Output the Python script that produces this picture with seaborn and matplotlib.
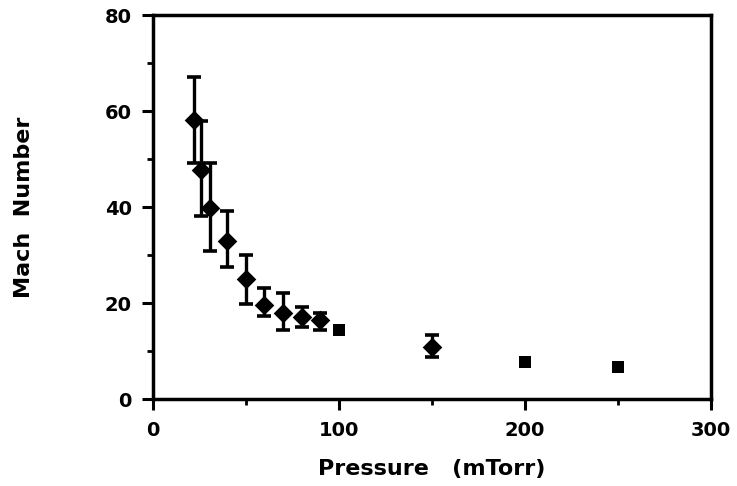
import numpy as np
import pandas as pd
import matplotlib
matplotlib.use('Agg')
import matplotlib.pyplot as plt
import seaborn as sns
from matplotlib.ticker import MultipleLocator

# Mach number vs pressure, points with error bars (diamonds)
pressure_err = [22, 26, 31, 40, 50, 60, 70, 80, 90, 150]
mach_err = [58.1, 47.7, 39.7, 32.9, 25.1, 19.6, 17.9, 17.1, 16.5, 10.9]
mach_low = [49.1, 38.2, 30.9, 27.6, 19.9, 17.3, 14.4, 15.1, 14.4, 8.8]
mach_high = [67.0, 58.0, 49.1, 39.2, 30.0, 23.1, 22.1, 19.1, 18.0, 13.3]

# points without error bars (squares)
pressure_sq = [100, 200, 250]
mach_sq = [14.4, 7.8, 6.7]

df_err = pd.DataFrame({'Pressure': pressure_err, 'Mach': mach_err})
df_sq = pd.DataFrame({'Pressure': pressure_sq, 'Mach': mach_sq})

sns.set_style('ticks')
plt.rcParams['font.family'] = ['DejaVu Sans']

fig, ax = plt.subplots(figsize=(7.37, 4.86), dpi=100)
fig.subplots_adjust(left=0.207, right=0.965, bottom=0.179, top=0.969)

# error bars
yerr = [np.array(mach_err) - np.array(mach_low), np.array(mach_high) - np.array(mach_err)]
ax.errorbar(pressure_err, mach_err, yerr=yerr, fmt='none', ecolor='black',
            elinewidth=2.4, capsize=5, capthick=2.6, zorder=2)

sns.scatterplot(x='Pressure', y='Mach', data=df_err, ax=ax, marker='D', s=100,
                color='black', edgecolor='black', linewidth=0, zorder=3)
sns.scatterplot(x='Pressure', y='Mach', data=df_sq, ax=ax, marker='s', s=85,
                color='black', edgecolor='black', linewidth=0, zorder=3)

ax.set_xlim(0, 300)
ax.set_ylim(0, 80)
ax.set_xticks([0, 100, 200, 300])
ax.set_yticks([0, 20, 40, 60, 80])
ax.xaxis.set_minor_locator(MultipleLocator(50))
ax.yaxis.set_minor_locator(MultipleLocator(10))

for side in ['left', 'right', 'top', 'bottom']:
    ax.spines[side].set_linewidth(2.5)
    ax.spines[side].set_color('black')

ax.tick_params(which='major', direction='out', length=8, width=2.2, colors='black',
               labelsize=14)
ax.tick_params(axis='x', which='major', pad=8)
ax.tick_params(axis='y', which='major', pad=7)
ax.tick_params(which='minor', direction='out', length=4, width=2, colors='black')
for lbl in ax.get_xticklabels() + ax.get_yticklabels():
    lbl.set_fontweight('bold')

ax.set_xlabel('Pressure   (mTorr)', fontsize=16, fontweight='bold', color='black')
ax.set_ylabel('Mach  Number', fontsize=16, fontweight='bold', color='black')
ax.xaxis.set_label_coords(0.5, -0.155)
ax.yaxis.set_label_coords(-0.212, 0.5)

plt.savefig('out.png', dpi=100)
